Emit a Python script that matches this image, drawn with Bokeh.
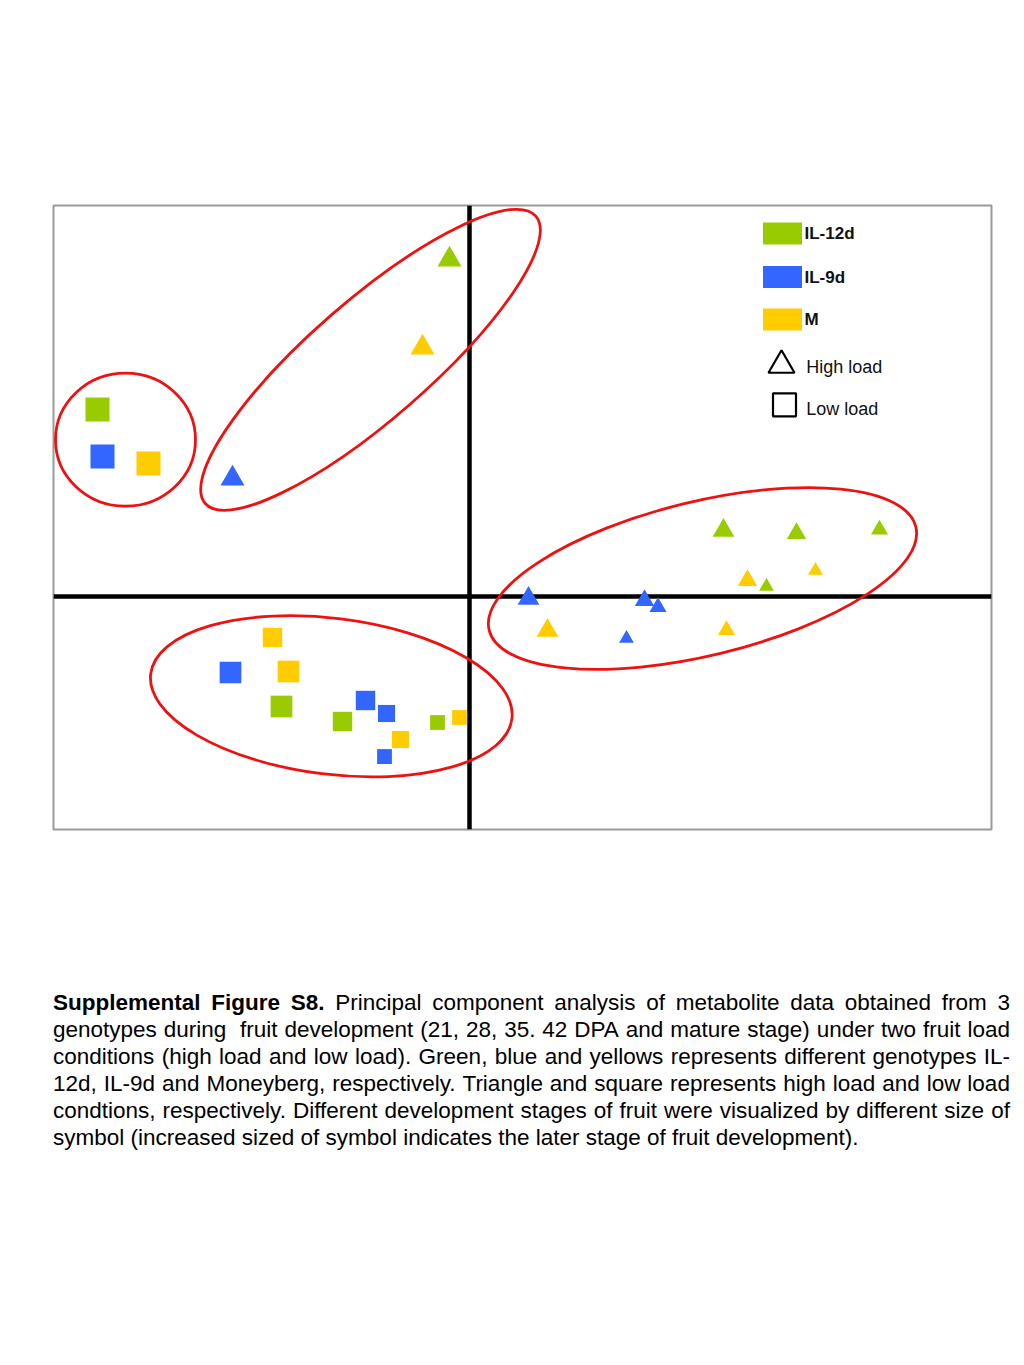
from bokeh.plotting import figure
from bokeh.models import Range1d, Span, ColumnDataSource, Div
from bokeh.layouts import column
from bokeh.core.properties import value
from bokeh.embed import file_html
from bokeh.resources import INLINE

# ---------------- data (PC scores) ----------------
genotype = (["IL-12d"] * 5 + ["M"] * 5 + ["IL-9d"] * 5 +
            ["IL-12d"] * 4 + ["IL-9d"] * 5 + ["M"] * 5)
load = ["High load"] * 15 + ["Low load"] * 14
stage = [5, 4, 3, 2, 1,   5, 4, 3, 2, 1,   5, 4, 3, 2, 1,
         5, 4, 3, 1,      5, 4, 3, 2, 1,   5, 4, 3, 2, 1]
pc1 = [-0.20, 2.54, 3.27, 4.10, 2.97,
       -0.47, 0.78, 2.78, 2.57, 3.46,
       -2.37, 0.59, 1.75, 1.885, 1.57,
       -3.72, -1.88, -1.27, -0.32,
       -3.67, -2.39, -1.04, -0.83, -0.85,
       -3.21, -1.81, -1.97, -0.69, -0.10]
pc2 = [3.37, 0.66, 0.63, 0.67, 0.10,
       2.49, -0.34, 0.16, -0.335, 0.26,
       1.18, -0.02, -0.04, -0.105, -0.42,
       1.87, -1.10, -1.25, -1.26,
       1.40, -0.76, -1.04, -1.17, -1.60,
       1.33, -0.75, -0.41, -1.43, -1.21]

# cluster outlines (centre, width, height, angle in degrees)
ell_x = [-3.44, -0.99, 2.33, -1.382]
ell_y = [1.568, 2.367, 0.18, -0.998]
ell_w = [1.40, 4.38, 4.39, 3.64]
ell_h = [1.33, 1.19, 1.54, 1.56]
ell_a = [0.0, 41.0, 13.6, -7.1]

genotypes = ["IL-12d", "IL-9d", "M"]
loads = ["High load", "Low load"]

caption_lines = [
    "Principal component analysis of metabolite data obtained from 3",
    "genotypes during  fruit development (21, 28, 35. 42 DPA and mature stage) under two fruit load",
    "conditions (high load and low load). Green, blue and yellows represents different genotypes IL-",
    "12d, IL-9d and Moneyberg, respectively. Triangle and square represents high load and low load",
    "condtions, respectively. Different development stages of fruit were visualized by different size of",
    "symbol (increased sized of symbol indicates the later stage of fruit development).",
]
caption_bold = "Supplemental Figure S8."

# ---------------- styles ----------------
COLORS = {"IL-12d": "#99cc00", "IL-9d": "#3366ff", "M": "#ffcc00"}
MARKERS = {"High load": "triangle", "Low load": "square"}
def stage_size(s):
    return 12.5 + 2.3 * s

src = ColumnDataSource(dict(
    x=pc1, y=pc2,
    color=[COLORS[g] for g in genotype],
    marker=[MARKERS[l] for l in load],
    size=[stage_size(s) for s in stage],
))

p = figure(frame_width=938, frame_height=624,
           x_range=Range1d(-4.16, 5.22), y_range=Range1d(-2.33, 3.91),
           min_border_left=53, min_border_right=25,
           min_border_top=205, min_border_bottom=160,
           x_axis_type=None, y_axis_type=None,
           output_backend="svg", toolbar_location=None)
p.xgrid.visible = False
p.ygrid.visible = False
p.outline_line_color = "#9a9a9a"
p.outline_line_width = 2
p.background_fill_color = "white"
p.border_fill_color = "white"

p.add_layout(Span(location=0, dimension="height", line_color="black",
                  line_width=4.5, level="underlay"))
p.add_layout(Span(location=0, dimension="width", line_color="black",
                  line_width=4.5, level="underlay"))

p.ellipse(x=ell_x, y=ell_y, width=ell_w, height=ell_h, angle=ell_a,
          angle_units="deg", fill_color=None, line_color="#ee1111",
          line_width=2.8)

p.scatter(x="x", y="y", size="size", marker="marker", fill_color="color",
          line_color=None, source=src)

# ---------------- legend (drawn by hand) ----------------
leg_x = 3.13
leg_rows = [3.63, 3.195, 2.77]
p.rect(x=[leg_x] * 3, y=leg_rows, width=0.39, height=0.22,
       fill_color=[COLORS[g] for g in genotypes], line_color=None)
p.text(x=[leg_x + 0.22] * 3, y=leg_rows, text=genotypes,
       text_font=value("Liberation Sans"), text_font_style="bold",
       text_font_size="17px", text_baseline="middle", text_color="#111111")
shape_rows = [2.3125, 1.917]
p.scatter(x=[3.12, 3.15], y=shape_rows, marker=[MARKERS[l] for l in loads],
          size=[26, 23], fill_color=None, line_color="black", line_width=2.2)
p.text(x=[3.367] * 2, y=[2.30, 1.877], text=loads,
       text_font=value("Liberation Sans"), text_font_size="18px",
       text_baseline="middle", text_color="#111111")

# ---------------- caption ----------------
def justified(words_html):
    spans = "".join("<span>%s</span>" % w for w in words_html)
    return ('<div style="display:flex;justify-content:space-between;'
            'white-space:nowrap;height:27px;line-height:27px;">%s</div>' % spans)

rows = []
first = ["<b>%s</b>" % w for w in caption_bold.split(" ")] + caption_lines[0].split(" ")
rows.append(justified(first))
for line in caption_lines[1:-1]:
    rows.append(justified(line.split(" ")))
rows.append('<div style="height:27px;line-height:27px;white-space:nowrap;">%s</div>'
            % caption_lines[-1])
html = ('<div style="font-family:\'Liberation Sans\',Arial,sans-serif;'
        'font-size:22.5px;color:#000;width:957px;">%s</div>' % "".join(rows))

cap = Div(text=html, width=957, margin=(0, 0, 0, 53))

layout = column(p, cap, spacing=0)
open("out.html", "w").write(file_html(layout, INLINE))
